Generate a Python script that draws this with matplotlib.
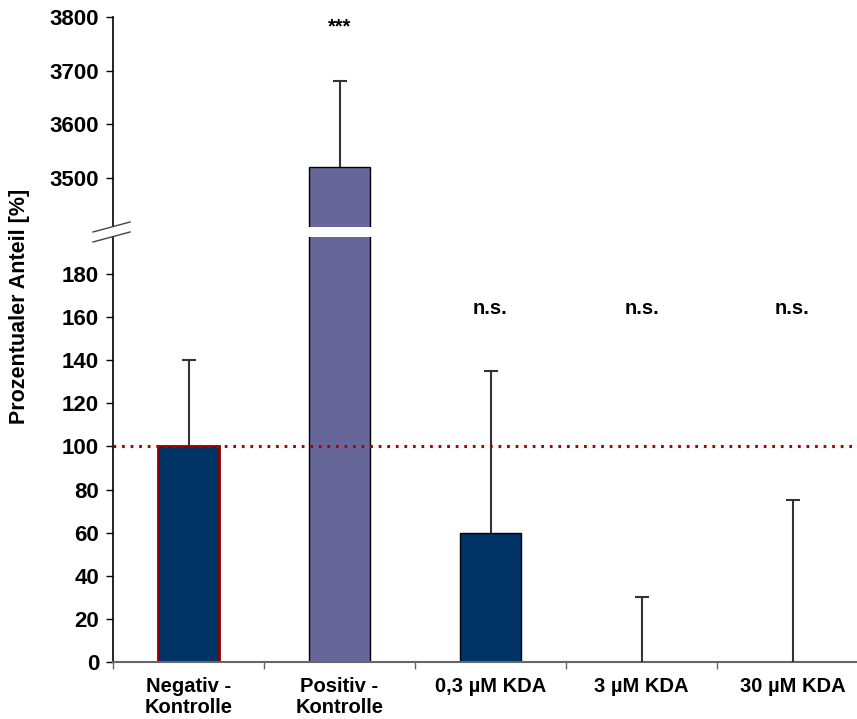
import matplotlib
matplotlib.use("Agg")
import matplotlib.pyplot as plt
from matplotlib.lines import Line2D

plt.rcParams['font.family'] = ['Liberation Sans', 'DejaVu Sans']
plt.rcParams['font.weight'] = 'bold'

categories = ["Negativ -\nKontrolle", "Positiv -\nKontrolle", "0,3 µM KDA", "3 µM KDA", "30 µM KDA"]
values = [100, 3520, 60, 0, 0]
errors = [40, 160, 75, 30, 75]
annotations = ["", "***", "n.s.", "n.s.", "n.s."]
annot_y = [None, 3782, 164, 164, 164]
bottom_ticks = [0, 20, 40, 60, 80, 100, 120, 140, 160, 180]
top_ticks = [3500, 3600, 3700, 3800]
reference_level = 100

fill_colors = ["#003366", "#666699", "#003366", "#003366", "#003366"]
edge_colors = ["#8b0000", "#000000", "#000000", "#000000", "#000000"]
edge_widths = [2.0, 1.0, 1.0, 1.0, 1.0]

W, H = 857, 719
fig = plt.figure(figsize=(W / 100, H / 100), dpi=100)

x_left = 113
x_right = 113 + 755
y_top_top, y_top_bot = 17, 226.5
y_bot_top, y_bot_bot = 236.5, 662

def fx(px):
    return px / W

def fy(py):
    return 1 - py / H

ax_top = fig.add_axes([fx(x_left), fy(y_top_bot), fx(x_right - x_left), (y_top_bot - y_top_top) / H])
ax_bot = fig.add_axes([fx(x_left), fy(y_bot_bot), fx(x_right - x_left), (y_bot_bot - y_bot_top) / H])

px_per_unit_bot = (662 - 274) / 180.0
px_per_unit_top = (178 - 17) / 300.0
ax_bot.set_ylim(0, (y_bot_bot - y_bot_top) / px_per_unit_bot)
ax_top.set_ylim(3800 - (y_top_bot - y_top_top) / px_per_unit_top, 3800)

xs = list(range(len(categories)))
tops = [v + e for v, e in zip(values, errors)]
for ax in (ax_top, ax_bot):
    ax.set_xlim(-0.5, len(categories) - 0.5)
    ax.bar(xs, values, width=0.40, color=fill_colors, edgecolor=edge_colors,
           linewidth=edge_widths, zorder=2)
    ax.vlines(xs, values, tops, color='#333333', linewidth=1.5, zorder=3)
    ax.plot(xs, tops, linestyle='none', marker='_', markersize=10,
            markeredgewidth=1.5, color='#333333', zorder=3)
    ax.spines['top'].set_visible(False)
    ax.spines['right'].set_visible(False)
    ax.spines['left'].set_linewidth(1.2)
    ax.tick_params(axis='y', direction='out', length=5, width=1, labelsize=16, pad=5)

ax_top.spines['bottom'].set_visible(False)
ax_top.set_xticks([])
ax_top.set_yticks(top_ticks)

ax_bot.set_yticks(bottom_ticks)
ax_bot.spines['bottom'].set_color('#666666')
ax_bot.spines['bottom'].set_linewidth(1.5)
ax_bot.set_xticks([i - 0.5 for i in range(len(categories) + 1)])
ax_bot.set_xticklabels([])
ax_bot.tick_params(axis='x', direction='out', length=5, width=1, color='#666666')
for i, lab in enumerate(categories):
    ax_bot.text(i, -7, lab, ha='center', va='top', fontsize=14.5, fontweight='bold',
                linespacing=1.15)

ax_bot.axhline(reference_level, color='#b00000', linewidth=2.2,
               linestyle=(0, (0.9, 1.9)), zorder=4, clip_on=False)

for i, (a, yv) in enumerate(zip(annotations, annot_y)):
    if not a:
        continue
    ax = ax_top if yv > 1000 else ax_bot
    ax.text(i, yv, a, ha='center', va='center', fontsize=14.5, fontweight='bold')

# break marks
for dy in (0, 10):
    fig.add_artist(Line2D([fx(93), fx(130)], [fy(232 + dy), fy(222 + dy)],
                          color='#444444', linewidth=1.0))

fig.text(fx(20), fy(306), "Prozentualer Anteil [%]", rotation=90, ha='center',
         va='center', fontsize=15.5, fontweight='bold')

fig.savefig("out.png", dpi=100)
